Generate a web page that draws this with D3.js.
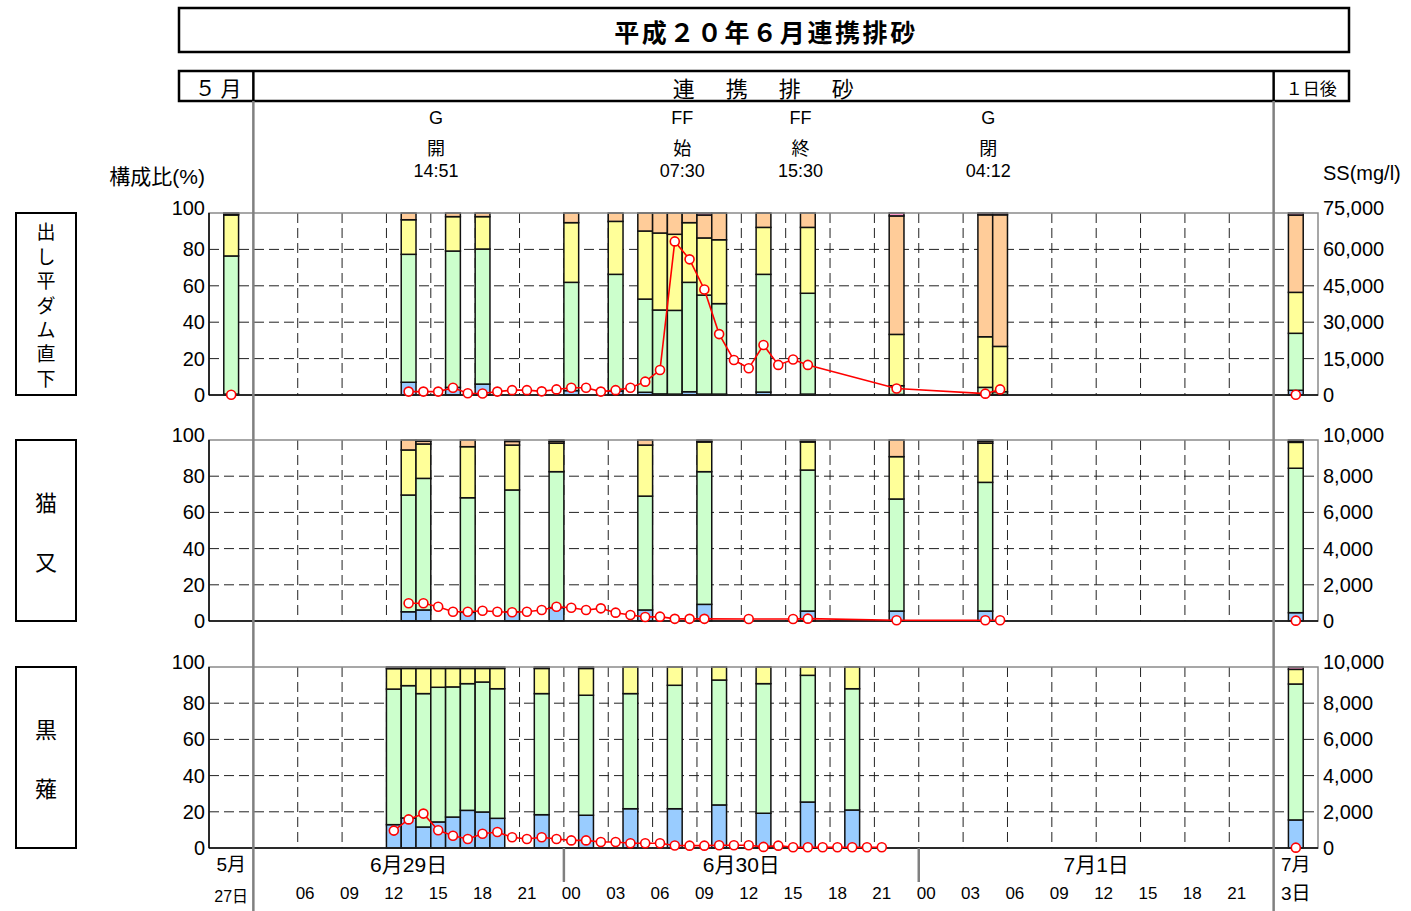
<!DOCTYPE html>
<html>
<head>
<meta charset="utf-8">
<script src="https://cdn.jsdelivr.net/npm/d3@7"></script>
<style>
  body { margin: 0; background: #fff; }
  svg { display: block; }
</style>
</head>
<body>
<svg id="chart" width="1411" height="911"></svg>
<script>
// Time axis is counted in hourly slots from 6/29 00:00.
// Slot 1 holds the 5/27 sample (before flushing), slot 73 the 7/3 sample (one day after).

// ---- station names ----
const stationNames = ["出し平ダム直下", "猫又", "黒薙"];

// ---- grain-size composition (%) : fraction1 (finest) ... fraction5 (coarsest) ----
// 出し平ダム直下
const dashidairaSlots = [1, 13, 16, 18, 24, 27, 29, 30, 31, 32, 33, 34, 37, 40, 46, 52, 53, 73];
const dashidairaF1 = [0.5, 7.0, 4.2, 6.0, 2.4, 2.2, 1.5, 0.6, 0.5, 1.8, 0.5, 0.5, 1.6, 0.5, 0.3, 0.3, 0.3, 2.6];
const dashidairaF2 = [75.9, 70.3, 74.9, 74.2, 59.5, 64.1, 51.2, 46.1, 46.0, 60.1, 54.4, 49.7, 64.7, 55.4, 4.8, 3.9, 1.5, 31.3];
const dashidairaF3 = [22.5, 19.0, 18.9, 17.8, 32.8, 29.1, 37.4, 42.3, 41.8, 32.8, 31.4, 35.1, 25.8, 36.2, 28.2, 27.8, 24.9, 22.5];
const dashidairaF4 = [0.6, 3.7, 2.0, 2.0, 5.3, 4.6, 9.9, 11.0, 11.7, 5.3, 12.6, 14.7, 7.9, 7.9, 65.1, 67.0, 72.3, 42.5];
const dashidairaF5 = [0.5, 0, 0, 0, 0, 0, 0, 0, 0, 0, 1.1, 0, 0, 0, 1.6, 1.0, 1.0, 1.1];

// 猫又
const nekomataSlots = [13, 14, 17, 20, 23, 29, 33, 40, 46, 52, 73];
const nekomataF1 = [5.1, 6.1, 4.8, 5.1, 7.4, 6.1, 9.2, 5.5, 5.5, 5.5, 4.6];
const nekomataF2 = [64.5, 72.7, 63.3, 67.3, 75.1, 62.9, 73.3, 77.9, 61.9, 71.1, 79.8];
const nekomataF3 = [24.9, 19.0, 28.2, 24.8, 15.7, 28.2, 16.4, 15.5, 23.4, 21.6, 14.3];
const nekomataF4 = [5.5, 1.5, 3.7, 2.0, 1.0, 2.8, 0.5, 0.5, 9.2, 1.0, 0.5];
const nekomataF5 = [0, 0.7, 0, 0.8, 0.8, 0, 0.6, 0.6, 0, 0.8, 0.8];

// 黒薙
const kuronagiSlots = [12, 13, 14, 15, 16, 17, 18, 19, 22, 25, 28, 31, 34, 37, 40, 43, 73];
const kuronagiF1 = [12.9, 16.6, 11.6, 14.4, 17.1, 20.8, 19.9, 16.4, 18.4, 18.1, 21.7, 21.7, 23.8, 19.2, 25.4, 21.0, 15.5];
const kuronagiF2 = [74.9, 73.1, 73.7, 74.4, 71.9, 70.0, 71.8, 71.6, 66.9, 66.3, 63.6, 68.2, 69.0, 71.6, 70.0, 67.0, 75.1];
const kuronagiF3 = [11.3, 9.5, 13.9, 10.4, 10.2, 8.4, 7.5, 11.2, 13.9, 14.8, 14.7, 10.1, 7.2, 9.2, 4.6, 12.0, 8.1];
const kuronagiF4 = [0, 0, 0, 0, 0, 0, 0, 0, 0, 0, 0, 0, 0, 0, 0, 0, 0];
const kuronagiF5 = [0.9, 0.8, 0.8, 0.8, 0.8, 0.8, 0.8, 0.8, 0.8, 0.8, 0, 0, 0, 0, 0, 0, 1.3];

// ---- SS concentration (mg/l) ----
const dashidairaSSSlots = [1, 13, 14, 15, 16, 17, 18, 19, 20, 21, 22, 23, 24, 25, 26, 27, 28, 29, 30, 31, 32, 33, 34, 35, 36, 37, 38, 39, 40, 46, 52, 53, 73];
const dashidairaSS = [100, 1400, 1400, 1400, 3000, 700, 600, 1400, 2000, 2000, 1500, 2300, 3000, 3000, 1400, 2000, 3000, 5500, 10300, 63300, 55900, 43500, 25100, 14400, 11000, 20600, 12400, 14600, 12400, 2700, 550, 2300, 100];

const nekomataSSSlots = [13, 14, 15, 16, 17, 18, 19, 20, 21, 22, 23, 24, 25, 26, 27, 28, 29, 30, 31, 32, 33, 36, 39, 40, 46, 52, 53, 73];
const nekomataSS = [980, 980, 790, 510, 510, 570, 510, 480, 510, 610, 790, 730, 610, 700, 460, 330, 220, 240, 120, 120, 120, 110, 110, 130, 40, 40, 40, 20];

const kuronagiSSSlots = [12, 13, 14, 15, 16, 17, 18, 19, 20, 21, 22, 23, 24, 25, 26, 27, 28, 29, 30, 31, 32, 33, 34, 35, 36, 37, 38, 39, 40, 41, 42, 43, 44, 45, 73];
const kuronagiSS = [960, 1580, 1900, 980, 680, 500, 790, 880, 590, 500, 590, 500, 420, 420, 330, 330, 260, 260, 260, 140, 130, 130, 150, 150, 150, 60, 130, 40, 40, 40, 40, 40, 40, 40, 20];

// ---- axes ----
const pctTicks = [0, 20, 40, 60, 80, 100];
const ssMaxes = [75000, 10000, 10000];
const ssTickLabels = [
  ["0", "15,000", "30,000", "45,000", "60,000", "75,000"],
  ["0", "2,000", "4,000", "6,000", "8,000", "10,000"],
  ["0", "2,000", "4,000", "6,000", "8,000", "10,000"]
];
const hourTickSlots = [6, 9, 12, 15, 18, 21, 24, 27, 30, 33, 36, 39, 42, 45, 48, 51, 54, 57, 60, 63, 66, 69];
const hourTickLabels = ["06", "09", "12", "15", "18", "21", "00", "03", "06", "09", "12", "15", "18", "21", "00", "03", "06", "09", "12", "15", "18", "21"];
const dayRanges = [[0, 3], [3, 24], [24, 48], [48, 72], [72, 75]];
const dayLabels = ["5月", "6月29日", "6月30日", "7月1日", "7月"];
const daySubLabels = ["27日", "", "", "", "3日"];

// ---- operation events ----
const eventGate = ["G", "FF", "FF", "G"];
const eventAction = ["開", "始", "終", "閉"];
const eventTimes = ["14:51", "07:30", "15:30", "04:12"];
const eventDay = [0, 1, 1, 2];

// ---- headings ----
const titleText = "平成２０年６月連携排砂";
const headerLeft = "５ 月";
const headerMid = "連　携　排　砂";
const headerRight = "１日後";

const fractionColors = ["#99CCFF", "#CCFFCC", "#FFFF99", "#FFCC99", "#FF99CC"];
const ssColor = "#FF0000";

// ------------------------------------------------------------------
const FONT = '"Liberation Sans", Arial, "Noto Sans CJK JP", sans-serif';
const FONT_JP = '"Noto Sans CJK JP", "Liberation Sans", sans-serif';

const svg = d3.select("#chart");
const x = d3.scaleLinear().domain([0, 75]).range([209, 1318]);
const panelBoxes = [{ top: 213, bottom: 395 }, { top: 440, bottom: 621 }, { top: 667, bottom: 848 }];

const stationBars = [
  { slots: dashidairaSlots, fr: [dashidairaF1, dashidairaF2, dashidairaF3, dashidairaF4, dashidairaF5] },
  { slots: nekomataSlots, fr: [nekomataF1, nekomataF2, nekomataF3, nekomataF4, nekomataF5] },
  { slots: kuronagiSlots, fr: [kuronagiF1, kuronagiF2, kuronagiF3, kuronagiF4, kuronagiF5] }
];
const stationSS = [
  { slots: dashidairaSSSlots, vals: dashidairaSS },
  { slots: nekomataSSSlots, vals: nekomataSS },
  { slots: kuronagiSSSlots, vals: kuronagiSS }
];

// title box
svg.append("rect").attr("x", 179).attr("y", 8).attr("width", 1170).attr("height", 44)
  .attr("fill", "none").attr("stroke", "#000").attr("stroke-width", 2.5);
svg.append("text").attr("x", 766).attr("y", 31).attr("text-anchor", "middle")
  .attr("dominant-baseline", "central").attr("font-family", FONT_JP).attr("font-weight", "bold")
  .attr("font-size", 25).attr("letter-spacing", 2.6).text(titleText);

// period header row
svg.append("rect").attr("x", 179).attr("y", 71).attr("width", 1170).attr("height", 30)
  .attr("fill", "none").attr("stroke", "#000").attr("stroke-width", 2.5);
[x(3), x(72)].forEach(px => {
  svg.append("line").attr("x1", px).attr("x2", px).attr("y1", 71).attr("y2", 101)
    .attr("stroke", "#000").attr("stroke-width", 2.5);
});
svg.append("text").attr("x", (179 + x(3)) / 2 + 2).attr("y", 87).attr("text-anchor", "middle")
  .attr("dominant-baseline", "central").attr("font-family", FONT_JP).attr("font-size", 21).text(headerLeft);
svg.append("text").attr("x", (x(3) + x(72)) / 2 + 2).attr("y", 87).attr("text-anchor", "middle")
  .attr("dominant-baseline", "central").attr("font-family", FONT_JP).attr("font-size", 22)
  .attr("letter-spacing", 4.5).text(headerMid);
svg.append("text").attr("x", (x(72) + 1349) / 2).attr("y", 87).attr("text-anchor", "middle")
  .attr("dominant-baseline", "central").attr("font-family", FONT_JP).attr("font-size", 17).text(headerRight);

// event annotations
eventTimes.forEach((t, i) => {
  const [hh, mm] = t.split(":").map(Number);
  const px = x(eventDay[i] * 24 + hh + mm / 60 + 0.5);
  const g = svg.append("g").attr("font-family", FONT).attr("font-size", 18).attr("text-anchor", "middle");
  g.append("text").attr("x", px).attr("y", 118).attr("dominant-baseline", "central").text(eventGate[i]);
  g.append("text").attr("x", px).attr("y", 147).attr("dominant-baseline", "central").attr("font-family", FONT_JP).text(eventAction[i]);
  g.append("text").attr("x", px).attr("y", 171).attr("dominant-baseline", "central").text(t);
});

// axis titles
svg.append("text").attr("x", 205).attr("y", 176).attr("text-anchor", "end").attr("dominant-baseline", "central")
  .attr("font-family", FONT).attr("font-size", 21).text("構成比(%)");
svg.append("text").attr("x", 1323).attr("y", 173).attr("dominant-baseline", "central")
  .attr("font-family", FONT).attr("font-size", 20).text("SS(mg/l)");

// panels
panelBoxes.forEach((pb, pi) => {
  const yL = d3.scaleLinear().domain([0, 100]).range([pb.bottom, pb.top]);
  const yR = d3.scaleLinear().domain([0, ssMaxes[pi]]).range([pb.bottom, pb.top]);
  const g = svg.append("g");

  // horizontal grid
  pctTicks.slice(1, -1).forEach(v => {
    g.append("line").attr("x1", x(0)).attr("x2", x(75)).attr("y1", yL(v)).attr("y2", yL(v))
      .attr("stroke", "#222").attr("stroke-width", 1).attr("stroke-dasharray", "10,5");
  });
  // vertical grid
  hourTickSlots.forEach(s => {
    g.append("line").attr("x1", x(s)).attr("x2", x(s)).attr("y1", pb.top).attr("y2", pb.bottom)
      .attr("stroke", "#222").attr("stroke-width", 1).attr("stroke-dasharray", "10,5");
  });

  // stacked bars
  const sb = stationBars[pi];
  sb.slots.forEach((s, i) => {
    let acc = 0;
    sb.fr.forEach((arr, k) => {
      const v = arr[i];
      if (v <= 0) return;
      g.append("rect").attr("x", x(s)).attr("width", x(s + 1) - x(s))
        .attr("y", yL(acc + v)).attr("height", yL(acc) - yL(acc + v))
        .attr("fill", fractionColors[k]).attr("stroke", "#111").attr("stroke-width", 1.5);
      acc += v;
    });
  });

  // frame
  g.append("rect").attr("x", x(0)).attr("y", pb.top).attr("width", x(75) - x(0)).attr("height", pb.bottom - pb.top)
    .attr("fill", "none").attr("stroke", "#8a8a8a").attr("stroke-width", 1.5);
  g.append("line").attr("x1", x(0)).attr("x2", x(0)).attr("y1", pb.top).attr("y2", pb.bottom)
    .attr("stroke", "#000").attr("stroke-width", 1.5);
  g.append("line").attr("x1", x(0)).attr("x2", x(75)).attr("y1", pb.bottom).attr("y2", pb.bottom)
    .attr("stroke", "#000").attr("stroke-width", 1.5);

  // left axis labels (top label sits slightly above its tick)
  pctTicks.forEach(v => {
    g.append("text").attr("x", 205).attr("y", yL(v) - (v === 100 ? 5 : 0)).attr("text-anchor", "end").attr("dominant-baseline", "central")
      .attr("font-family", FONT).attr("font-size", 20).text(v);
  });
  // right axis labels
  const rTicks = d3.range(0, 6).map(k => ssMaxes[pi] * k / 5);
  rTicks.forEach((v, k) => {
    g.append("text").attr("x", 1323).attr("y", yR(v) - (k === 5 ? 5 : 0)).attr("dominant-baseline", "central")
      .attr("font-family", FONT).attr("font-size", 20).text(ssTickLabels[pi][k]);
  });

  // station label box
  g.append("rect").attr("x", 16).attr("y", pb.top).attr("width", 60).attr("height", pb.bottom - pb.top)
    .attr("fill", "none").attr("stroke", "#000").attr("stroke-width", 2);
  const chars = Array.from(stationNames[pi]);
  const step = chars.length > 3 ? 24.4 : 59;
  const cy = (pb.top + pb.bottom) / 2;
  chars.forEach((c, k) => {
    g.append("text").attr("x", 46).attr("y", cy + (k - (chars.length - 1) / 2) * step)
      .attr("text-anchor", "middle").attr("dominant-baseline", "central")
      .attr("font-family", FONT_JP).attr("font-size", chars.length > 3 ? 19 : 22).text(c);
  });

  // SS line + markers, one line per time section
  const ss = stationSS[pi];
  const pts = ss.slots.map((s, i) => ({ s, v: ss.vals[i] }));
  const sections = [pts.filter(p => p.s < 3), pts.filter(p => p.s >= 3 && p.s < 72), pts.filter(p => p.s >= 72)];
  const line = d3.line().x(p => x(p.s + 0.5)).y(p => yR(p.v));
  sections.forEach(sec => {
    if (sec.length > 1) {
      g.append("path").attr("d", line(sec)).attr("fill", "none").attr("stroke", ssColor).attr("stroke-width", 1.6);
    }
  });
  g.selectAll(null).data(pts).enter().append("circle")
    .attr("cx", p => x(p.s + 0.5)).attr("cy", p => yR(p.v)).attr("r", 4.5)
    .attr("fill", "#fff").attr("stroke", ssColor).attr("stroke-width", 1.6);
});

// period separators
[x(3), x(72)].forEach(px => {
  svg.append("line").attr("x1", px).attr("x2", px).attr("y1", 101).attr("y2", 911)
    .attr("stroke", "#808080").attr("stroke-width", 2.5);
});
// day boundaries under the time axis
[x(24), x(48)].forEach(px => {
  svg.append("line").attr("x1", px).attr("x2", px).attr("y1", 848).attr("y2", 882)
    .attr("stroke", "#808080").attr("stroke-width", 2.5);
});

// time axis labels
dayRanges.forEach((r, i) => {
  const cx = x((r[0] + r[1]) / 2);
  svg.append("text").attr("x", cx).attr("y", 864).attr("text-anchor", "middle").attr("dominant-baseline", "central")
    .attr("font-family", FONT).attr("font-size", i === 0 || i === 4 ? 19 : 21).text(dayLabels[i]);
  if (daySubLabels[i]) {
    svg.append("text").attr("x", cx).attr("y", i === 0 ? 896 : 893).attr("text-anchor", "middle").attr("dominant-baseline", "central")
      .attr("font-family", FONT).attr("font-size", i === 0 ? 16 : 19).text(daySubLabels[i]);
  }
});
hourTickSlots.forEach((s, i) => {
  svg.append("text").attr("x", x(s + 0.5)).attr("y", 893).attr("text-anchor", "middle").attr("dominant-baseline", "central")
    .attr("font-family", FONT).attr("font-size", 17).text(hourTickLabels[i]);
});
</script>
</body>
</html>
